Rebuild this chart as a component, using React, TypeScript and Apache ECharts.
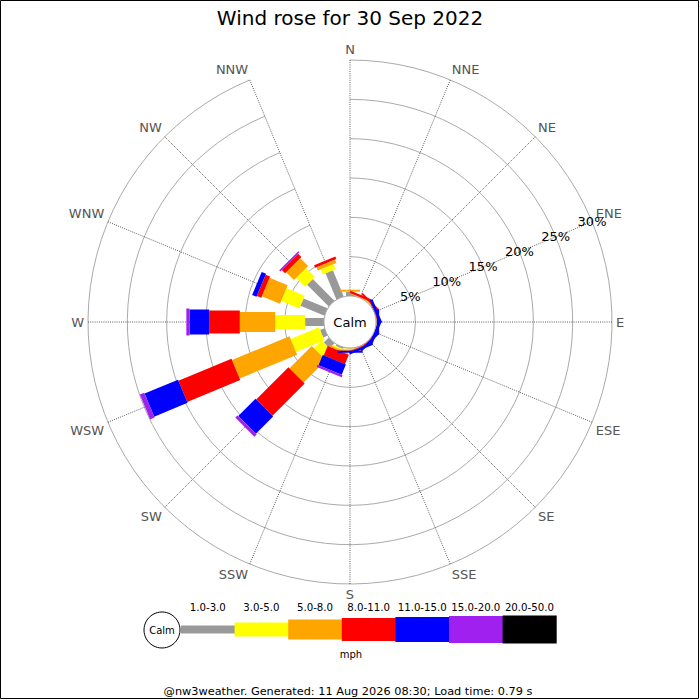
import React, { useEffect, useRef } from "react";
import * as echarts from "echarts";

const directions = ["N", "NNE", "NE", "ENE", "E", "ESE", "SE", "SSE", "S", "SSW", "SW", "WSW", "W", "WNW", "NW", "NNW"];
const speedClasses = ["1.0-3.0", "3.0-5.0", "5.0-8.0", "8.0-11.0", "11.0-15.0", "15.0-20.0", "20.0-50.0"];
const classColors = ["#999999", "#ffff00", "#ffa500", "#ff0000", "#0000ff", "#a020f0", "#000000"];
const classWidths = [8, 14, 20, 23, 25, 27, 28];

// percent of time per direction, by speed class (mph)
const pct1to3 = [0.5, 0, 0, 0, 0, 0, 0, 0, 0.05, 0.2, 0.9, 0.6, 2.4, 3.3, 3.9, 3.6];
const pct3to5 = [0.05, 0, 0.1, 0, 0, 0, 0, 0, 0.15, 0.2, 1.4, 3.9, 3.8, 2.5, 1.6, 0.7];
const pct5to8 = [0.25, 0.1, 0.1, 0, 0.1, 0, 0, 0.1, 0.1, 0.2, 4.0, 7.9, 4.5, 2.5, 1.4, 0.45];
const pct8to11 = [0, 0.3, 0.25, 0.1, 0, 0, 0.1, 0.1, 0.05, 1.3, 5.8, 7.3, 3.9, 0.6, 0.6, 0.35];
const pct11to15 = [0, 0, 0, 0.35, 0.3, 0.4, 0.3, 0.3, 0.25, 1.4, 3.1, 4.6, 2.5, 0.6, 0, 0];
const pct15to20 = [0, 0, 0, 0, 0, 0, 0, 0, 0, 0.3, 0.4, 0.6, 0.4, 0, 0.2, 0];
const pct20to50 = [0, 0, 0, 0, 0, 0, 0, 0, 0, 0, 0, 0, 0, 0, 0, 0];

const classValues = [pct1to3, pct3to5, pct5to8, pct8to11, pct11to15, pct15to20, pct20to50];

const radiusTicks = [0, 5, 10, 15, 20, 25, 30];

const titleText = "Wind rose for 30 Sep 2022";
const unitText = "mph";
const calmText = "Calm";
const footerText = "@nw3weather. Generated: 11 Aug 2026 08:30; Load time: 0.79 s";

const FONT = "DejaVu Sans";

export default function App() {
  const ref = useRef<HTMLDivElement>(null);

  useEffect(() => {
    if (!ref.current) return;
    const chart = echarts.init(ref.current, undefined, { renderer: "svg" });

    const cx = 350;
    const cy = 322;
    const r0 = 26;
    const r1 = 262;

    // stacked segments
    const cumulative = directions.map(() => 0);
    const series: any[] = classValues.map((vals, k) => {
      const data = vals.map((v, i) => {
        const start = cumulative[i];
        const end = start + v;
        cumulative[i] = end;
        return [i, start, end];
      });
      const w = classWidths[k];
      const color = classColors[k];
      return {
        type: "custom",
        name: speedClasses[k],
        coordinateSystem: "polar",
        polarIndex: 0,
        encode: { angle: 0, radius: [1, 2] },
        data,
        z: 2 + k,
        silent: true,
        renderItem: (params: any, api: any) => {
          const idx = api.value(0);
          const s = api.value(1);
          const e = api.value(2);
          if (!(e - s > 0)) return null;
          const ccx = params.coordSys.cx;
          const ccy = params.coordSys.cy;
          const pA = api.coord([s, idx]);
          const pB = api.coord([e, idx]);
          const ux = pA[0] - ccx;
          const uy = pA[1] - ccy;
          const len = Math.hypot(ux, uy) || 1;
          const nx = (-uy / len) * (w / 2);
          const ny = (ux / len) * (w / 2);
          return {
            type: "polygon",
            shape: {
              points: [
                [pA[0] + nx, pA[1] + ny],
                [pB[0] + nx, pB[1] + ny],
                [pB[0] - nx, pB[1] - ny],
                [pA[0] - nx, pA[1] - ny],
              ],
            },
            style: { fill: color, stroke: null },
          };
        },
      };
    });

    // legend graphics
    const legendX0 = 181;
    const legendStep = 53.6;
    const legendY = 629.5;
    const legendGraphics: any[] = [];
    speedClasses.forEach((label, k) => {
      const h = classWidths[k];
      legendGraphics.push({
        type: "rect",
        shape: { x: legendX0 + k * legendStep, y: legendY - h / 2, width: legendStep + 0.5, height: h },
        style: { fill: classColors[k] },
        z: 10,
      });
      legendGraphics.push({
        type: "text",
        x: legendX0 + k * legendStep + legendStep / 2,
        y: 607.5,
        style: {
          text: label,
          fontSize: 10.2,
          fontFamily: FONT,
          fill: "#000",
          align: "center",
          verticalAlign: "middle",
        },
        z: 10,
      });
    });

    const option: any = {
      animation: false,
      backgroundColor: "#fff",
      textStyle: { fontFamily: FONT },
      title: {
        text: titleText,
        left: "center",
        top: 3,
        textStyle: { fontSize: 20, fontWeight: "normal", fontFamily: FONT, color: "#000" },
      },
      polar: [
        { center: [cx, cy], radius: [r0, r1] },
        { center: [cx, cy], radius: [r0, r1] },
      ],
      angleAxis: [
        {
          polarIndex: 0,
          type: "category",
          data: directions,
          startAngle: 90,
          clockwise: true,
          boundaryGap: false,
          axisLine: { show: false },
          axisTick: { show: false },
          axisLabel: { show: true, color: "#555", fontSize: 13, fontFamily: FONT, margin: 4 },
          splitLine: { show: true, lineStyle: { color: "#333", width: 0.8, type: [1, 1.2] } },
        },
        {
          polarIndex: 1,
          type: "value",
          min: 0,
          max: 360,
          startAngle: 22.5,
          show: false,
        },
      ],
      radiusAxis: [
        {
          polarIndex: 0,
          type: "value",
          min: radiusTicks[0],
          max: radiusTicks[radiusTicks.length - 1],
          interval: 5,
          axisLine: { show: false },
          axisTick: { show: false },
          axisLabel: { show: false },
          splitLine: { show: true, lineStyle: { color: "#aaa", width: 1 } },
        },
        {
          polarIndex: 1,
          type: "value",
          min: radiusTicks[0],
          max: radiusTicks[radiusTicks.length - 1],
          interval: 5,
          axisLine: { show: false },
          axisTick: { show: false },
          splitLine: { show: false },
          axisLabel: {
            show: true,
            showMinLabel: false,
            formatter: "{value}%",
            color: "#000",
            fontSize: 13,
            fontFamily: FONT,
            margin: 0,
            align: "center",
            verticalAlign: "middle",
          },
        },
      ],
      series,
      graphic: [
        {
          type: "rect",
          shape: { x: 0.5, y: 0.5, width: 698, height: 698 },
          style: { fill: "none", stroke: "#000", lineWidth: 1 },
          z: 0,
          silent: true,
        },
        {
          type: "circle",
          shape: { cx, cy, r: r0 },
          style: { fill: "#fff", stroke: "#aaa", lineWidth: 1 },
          z: 50,
        },
        {
          type: "text",
          x: cx,
          y: cy,
          style: { text: calmText, fontSize: 13, fontFamily: FONT, fill: "#000", align: "center", verticalAlign: "middle" },
          z: 51,
        },
        {
          type: "circle",
          shape: { cx: 162, cy: 630, r: 18 },
          style: { fill: "#fff", stroke: "#000", lineWidth: 1 },
          z: 11,
        },
        {
          type: "text",
          x: 162,
          y: 630,
          style: { text: calmText, fontSize: 10, fontFamily: FONT, fill: "#000", align: "center", verticalAlign: "middle" },
          z: 12,
        },
        ...legendGraphics,
        {
          type: "text",
          x: 351,
          y: 654,
          style: { text: unitText, fontSize: 10, fontFamily: FONT, fill: "#000", align: "center", verticalAlign: "middle" },
          z: 10,
        },
        {
          type: "text",
          x: 348,
          y: 691,
          style: { text: footerText, fontSize: 11.3, fontFamily: FONT, fill: "#000", align: "center", verticalAlign: "middle" },
          z: 10,
        },
      ],
    };

    chart.setOption(option);
    return () => chart.dispose();
  }, []);

  return (
    <div
      ref={ref}
      style={{ position: "fixed", left: 0, top: 0, width: 700, height: 700 }}
    />
  );
}
